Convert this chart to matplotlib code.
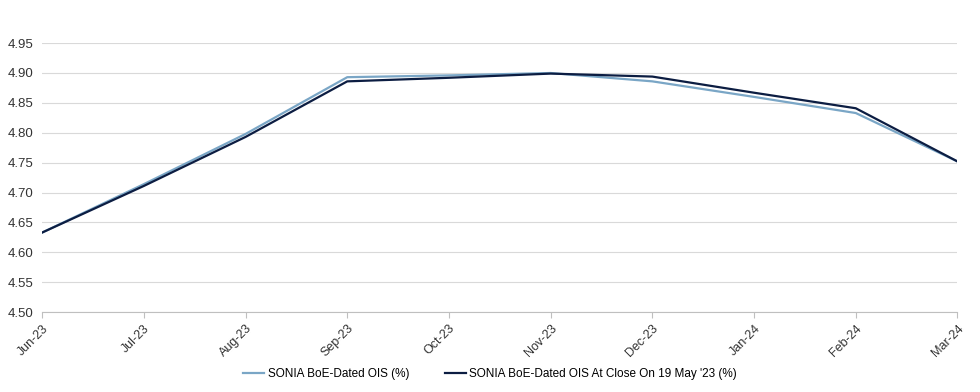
import numpy as np
import matplotlib.pyplot as plt
import matplotlib as mpl

mpl.rcParams['font.family'] = ['Liberation Sans', 'DejaVu Sans']

# data
months = ['Jun-23', 'Jul-23', 'Aug-23', 'Sep-23', 'Oct-23', 'Nov-23',
          'Dec-23', 'Jan-24', 'Feb-24', 'Mar-24']
sonia_ois = [4.633, 4.714, 4.798, 4.893, 4.896, 4.900, 4.886, 4.860, 4.833, 4.752]
sonia_ois_19may = [4.633, 4.711, 4.793, 4.886, 4.892, 4.899, 4.894, 4.867, 4.841, 4.752]
yticks = [4.50, 4.55, 4.60, 4.65, 4.70, 4.75, 4.80, 4.85, 4.90, 4.95]

fig = plt.figure(figsize=(9.8, 3.92), dpi=100)
ax = fig.add_axes([0.043, 0.204, 0.934, 0.686])

x = np.arange(len(months))
ax.plot(x, sonia_ois, color='#7aa6c6', lw=1.6, label='SONIA BoE-Dated OIS (%)', zorder=3)
ax.plot(x, sonia_ois_19may, color='#0c1d42', lw=1.6,
        label="SONIA BoE-Dated OIS At Close On 19 May '23 (%)", zorder=4)

ax.set_xlim(0, len(months) - 1)
ax.set_ylim(4.50, 4.95)
ax.set_yticks(yticks)
ax.set_yticklabels([f'{v:.2f}' for v in yticks])
ax.set_xticks(x)
ax.set_xticklabels(months, rotation=45, ha='right', rotation_mode='anchor')

ax.grid(axis='y', color='#d9d9d9', lw=0.8)
ax.set_axisbelow(True)
for s in ['top', 'right', 'left']:
    ax.spines[s].set_visible(False)
ax.spines['bottom'].set_color('#bfbfbf')
ax.tick_params(axis='y', length=0, labelsize=9.5, pad=6, colors='#333333')
ax.tick_params(axis='x', length=4, color='#bfbfbf', labelsize=9, colors='#333333')

fig.legend(loc='center', bbox_to_anchor=(0.5, 0.045), ncol=2, frameon=False,
           fontsize=8.5, handlelength=1.8, columnspacing=3.0, handletextpad=0.3)

plt.savefig('out.png', dpi=100)
